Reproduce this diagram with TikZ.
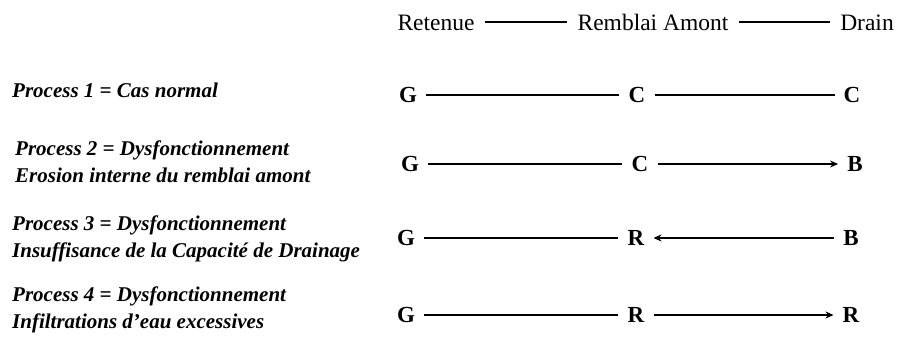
\documentclass[tikz,border=0pt]{standalone}
\usepackage{fontspec}
\setmainfont{Liberation Serif}
\usetikzlibrary{arrows.meta}

\begin{document}
\begin{tikzpicture}[x=1pt,y=-1pt]

            % BOUNDING BOX
            \useasboundingbox (0,0) rectangle (898,338);

            % DEF COORDINATES
            \coordinate (head_r) at (436,22);
            \coordinate (head_m) at (653,22);
            \coordinate (head_d) at (867,22);

            \coordinate (row1_g) at (408,95);
            \coordinate (row1_m) at (637,95);
            \coordinate (row1_d) at (852,95);
            \coordinate (row2_g) at (410,164);
            \coordinate (row2_m) at (640,164);
            \coordinate (row2_d) at (855,164);
            \coordinate (row3_g) at (406,238);
            \coordinate (row3_m) at (636,238);
            \coordinate (row3_d) at (851,238);
            \coordinate (row4_g) at (406,315);
            \coordinate (row4_m) at (636,315);
            \coordinate (row4_d) at (851,315);

            % DEF STYLES
            \tikzstyle{headstyle} = [inner xsep=10pt, inner ysep=0pt, text height=16pt, text depth=0pt, font=\fontsize{23.5}{27}\selectfont]
            \tikzstyle{letterstyle} = [inner xsep=9pt, inner ysep=0pt, text height=15.5pt, text depth=0pt, font=\fontsize{23}{26}\selectfont\bfseries]
            \tikzstyle{processstyle} = [anchor=west, align=left, inner sep=0pt, font=\fontsize{21}{27}\selectfont\bfseries\itshape]
            \tikzstyle{edgestyle} = [line width=1.2pt, color=black]
            \tikzstyle{arrowstyle} = [line width=1.6pt, color=black, -{Stealth[length=8pt,width=7pt]}]

            % HEADER
            \node[headstyle] (retenue) at (head_r) {Retenue};
            \node[headstyle] (remblai) at (head_m) {Remblai Amont};
            \node[headstyle] (drain) at (head_d) {Drain};
            \draw[edgestyle] (retenue) -- (remblai);
            \draw[edgestyle] (remblai) -- (drain);

            % PROCESS TEXTS
            \node[processstyle] (proc1) at (12,90) {Process 1 = Cas normal};
            \node[processstyle] (proc2) at (15,161.5) {Process 2 = Dysfonctionnement\\Erosion interne du remblai amont};
            \node[processstyle] (proc3) at (12,238.5) {Process 3 = Dysfonctionnement\\Insuffisance de la Capacité de Drainage};
            \node[processstyle] (proc4) at (12,310) {Process 4 = Dysfonctionnement\\Infiltrations d’eau excessives};

            % POINTS
            \foreach \i/\g/\m/\d in {1/G/C/C,2/G/C/B,3/G/R/B,4/G/R/R} {
              \node[letterstyle] (g\i) at (row\i_g) {\g};
              \node[letterstyle] (m\i) at (row\i_m) {\m};
              \node[letterstyle] (d\i) at (row\i_d) {\d};
            }

            % EDGES
            \foreach \i in {1,2,3,4} {
              \draw[edgestyle] (g\i) -- (m\i);
            }
            \draw[edgestyle] (m1) -- (d1);
            \foreach \i/\k in {m2/d2,d3/m3,m4/d4} {
              \draw[arrowstyle] (\i) -- (\k);
            }

          \end{tikzpicture}
\end{document}
